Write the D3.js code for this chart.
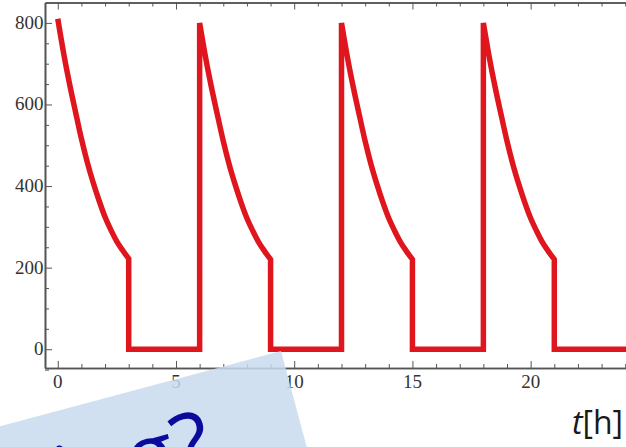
<!DOCTYPE html>
<html>
<head>
<meta charset="utf-8">
<script src="https://cdn.jsdelivr.net/npm/d3@7"></script>
<style>
  html, body { margin: 0; padding: 0; background: #fff; }
  svg { display: block; }
</style>
</head>
<body>
<svg id="chart" width="626" height="447"></svg>
<script>
// Dose administration times [h]
const doseTimes = [0, 6, 12, 18];
// Sampling offsets within each decay phase [h]
const decayOffsets = [0, 0.25, 0.5, 0.75, 1.0, 1.25, 1.5, 1.75, 2.0, 2.25, 2.5, 2.75, 3.0];
// Concentration after the first dose
const firstCycle = [810, 725, 650, 582, 516, 458, 408, 364, 324, 292, 264, 242, 222];
// Concentration after each later dose
const laterCycle = [800, 716, 642, 575, 510, 453, 404, 360, 321, 290, 262, 240, 220];
// Time at which the plotted trace ends [h]
const traceEnd = 24.8;

// Axis ticks
const xMajorTicks = [0, 5, 10, 15, 20];
const xMinorTicks = [1, 2, 3, 4, 6, 7, 8, 9, 11, 12, 13, 14, 16, 17, 18, 19, 21, 22, 23, 24];
const yMajorTicks = [0, 200, 400, 600, 800];
const yMinorTicks = [-50, 50, 100, 150, 250, 300, 350, 450, 500, 550, 650, 700, 750];

const svg = d3.select("#chart");
const plotL = 45, plotR = 638, plotT = 2.5, plotB = 368;

const x = d3.scaleLinear().domain([-0.54, 24.54]).range([plotL, plotR]);
const y = d3.scaleLinear().domain([-46, 850]).range([plotB, plotT]);

const frameColor = "#555";
const serif = "Liberation Serif";

svg.append("defs").append("clipPath").attr("id", "plotClip")
  .append("rect").attr("x", plotL).attr("y", plotT).attr("width", plotR - plotL).attr("height", plotB - plotT);

// Build the concentration trace: smooth decay after each dose, then a drop to zero
const cycles = [firstCycle, laterCycle, laterCycle, laterCycle];
const smooth = d3.line().x(d => x(d[0])).y(d => y(d[1])).curve(d3.curveMonotoneX);
let pathD = "";
cycles.forEach((conc, i) => {
  const t0 = doseTimes[i];
  const pts = conc.map((v, j) => [t0 + decayOffsets[j], v]);
  if (i > 0) pathD += `L${x(t0)},${y(0)}L${x(t0)},${y(conc[0])}`;
  const seg = smooth(pts);
  pathD += i === 0 ? seg : seg.replace(/^M[^A-Za-z]*/, "");
  const tEnd = t0 + decayOffsets[decayOffsets.length - 1];
  pathD += `L${x(tEnd)},${y(0)}`;
});
pathD += `L${x(traceEnd)},${y(0)}`;

svg.append("path")
  .attr("clip-path", "url(#plotClip)")
  .attr("d", pathD)
  .attr("fill", "none")
  .attr("stroke", "#e0161f")
  .attr("stroke-width", 5.5)
  .attr("stroke-linejoin", "miter");

// Frame axes (ticks only; labels drawn below)
function styleAxis(g) {
  g.selectAll("path.domain").attr("stroke", frameColor).attr("stroke-width", 1.6);
  g.selectAll(".tick line").attr("stroke", frameColor).attr("stroke-width", 1);
}
function frameAxis(axis, transform) {
  svg.append("g").attr("transform", transform).call(axis.tickSizeOuter(0).tickFormat("")).call(styleAxis);
}
frameAxis(d3.axisBottom(x).tickValues(xMajorTicks).tickSize(-7), `translate(0,${plotB})`);
frameAxis(d3.axisBottom(x).tickValues(xMinorTicks).tickSize(-4), `translate(0,${plotB})`);
frameAxis(d3.axisTop(x).tickValues(xMajorTicks).tickSize(-7), `translate(0,${plotT})`);
frameAxis(d3.axisTop(x).tickValues(xMinorTicks).tickSize(-4), `translate(0,${plotT})`);
frameAxis(d3.axisLeft(y).tickValues(yMajorTicks).tickSize(-7), `translate(${plotL},0)`);
frameAxis(d3.axisLeft(y).tickValues(yMinorTicks).tickSize(-4), `translate(${plotL},0)`);

// Tick labels
svg.append("g").selectAll("text").data(xMajorTicks).join("text")
  .attr("x", d => x(d)).attr("y", 388)
  .attr("text-anchor", "middle")
  .attr("font-family", serif).attr("font-size", 19).attr("fill", "#333")
  .text(d => d);
svg.append("g").selectAll("text").data(yMajorTicks).join("text")
  .attr("x", plotL - 1.5).attr("y", d => y(d) + 6)
  .attr("text-anchor", "end")
  .attr("font-family", serif).attr("font-size", 19).attr("fill", "#333")
  .text(d => d);

// Axis unit label
svg.append("text")
  .attr("x", 623).attr("y", 434)
  .attr("text-anchor", "end")
  .attr("font-family", "Open Sans")
  .attr("font-size", 32)
  .attr("fill", "#1a1a1a")
  .call(t => {
    t.append("tspan").attr("font-style", "italic").text("t");
    t.append("tspan").text("[h]");
  });

// Tilted caption card
const card = svg.append("g").attr("transform", "translate(281,351) rotate(-15)");
card.append("rect")
  .attr("x", -700).attr("y", 0).attr("width", 700).attr("height", 400)
  .attr("fill", "rgb(200,219,238)").attr("fill-opacity", 0.85);
card.append("text")
  .attr("x", -92).attr("y", 97)
  .attr("text-anchor", "end")
  .attr("font-family", "Open Sans")
  .attr("font-size", 86)
  .attr("fill", "#0a0a9c")
  .text("Scheduling?");
</script>
</body>
</html>
